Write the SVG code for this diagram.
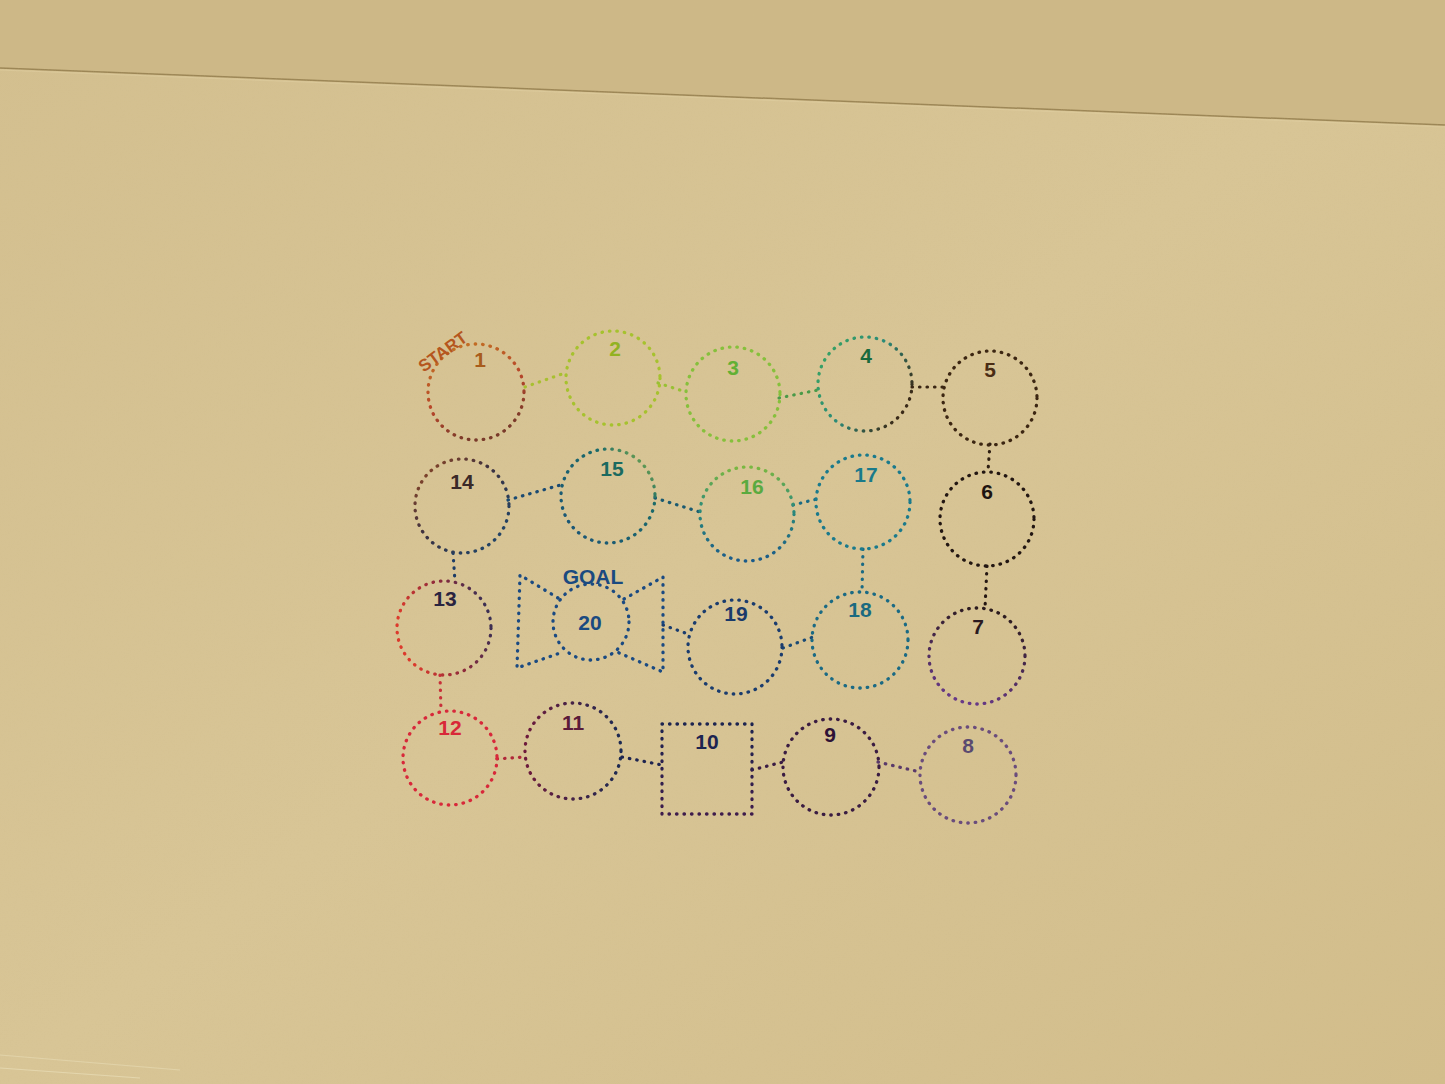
<svg xmlns="http://www.w3.org/2000/svg" width="1445" height="1084" viewBox="0 0 1445 1084">
<defs>
<style>
.d{fill:none;stroke-width:3.3;stroke-linecap:round;stroke-dasharray:0.5 7}
.c{fill:none;stroke-width:3.2;stroke-linecap:round;stroke-dasharray:0.5 7}
.n{font-family:"Liberation Sans",Arial,sans-serif;font-weight:bold;font-size:21px;text-anchor:middle;dominant-baseline:central}
</style>
<linearGradient id="bg" x1="0" y1="0" x2="1" y2="1">
<stop offset="0" stop-color="#d3bf8f"/>
<stop offset="0.5" stop-color="#d8c596"/>
<stop offset="1" stop-color="#d2bd8b"/>
</linearGradient>
<linearGradient id="g1" x1="0" y1="0" x2="0.4" y2="1"><stop offset="0" stop-color="#c57a22"/><stop offset="0.6" stop-color="#b8462a"/><stop offset="1" stop-color="#7a3a2a"/></linearGradient>
<linearGradient id="g4" x1="0" y1="0" x2="1" y2="0.6"><stop offset="0" stop-color="#3aa85e"/><stop offset="0.55" stop-color="#2a8a78"/><stop offset="1" stop-color="#3a2a18"/></linearGradient>
<linearGradient id="g7" x1="0.6" y1="0" x2="0.3" y2="1"><stop offset="0" stop-color="#2a1a1c"/><stop offset="1" stop-color="#6a3a8c"/></linearGradient>
<linearGradient id="g11" x1="0" y1="0" x2="1" y2="0"><stop offset="0" stop-color="#6e1a3c"/><stop offset="1" stop-color="#1c2a52"/></linearGradient>
<linearGradient id="g13" x1="0" y1="0.3" x2="1" y2="0"><stop offset="0" stop-color="#dc3a2c"/><stop offset="0.5" stop-color="#8a2a3c"/><stop offset="1" stop-color="#22305a"/></linearGradient>
<linearGradient id="g14" x1="0" y1="0" x2="1" y2="1"><stop offset="0" stop-color="#9a4a22"/><stop offset="0.45" stop-color="#3a3040"/><stop offset="1" stop-color="#1a4a72"/></linearGradient>
<linearGradient id="g15" x1="0" y1="1" x2="1" y2="0"><stop offset="0" stop-color="#1a5278"/><stop offset="0.7" stop-color="#1a6a6a"/><stop offset="1" stop-color="#9ac040"/></linearGradient>
<linearGradient id="g16" x1="0" y1="0" x2="0" y2="1"><stop offset="0" stop-color="#7ab840"/><stop offset="0.45" stop-color="#2a8a7a"/><stop offset="1" stop-color="#1a5a8a"/></linearGradient>
<linearGradient id="g10" x1="0" y1="0" x2="0" y2="1"><stop offset="0" stop-color="#1c2450"/><stop offset="1" stop-color="#3e1c4c"/></linearGradient>
<filter id="paper" x="0" y="0" width="100%" height="100%">
<feTurbulence type="fractalNoise" baseFrequency="0.7" numOctaves="3" seed="4" result="t"/>
<feColorMatrix in="t" type="matrix" values="0 0 0 0 0.62  0 0 0 0 0.50  0 0 0 0 0.25  0 0 0 -2 1.1"/>
</filter>
</defs>

<g id="background">
<rect width="1445" height="1084" fill="url(#bg)"/>
<polygon points="0,0 1445,0 1445,125 0,68" fill="#cdb887"/>
<line x1="0" y1="68" x2="1445" y2="125" stroke="#9c8656" stroke-width="1.5"/>
<line x1="0" y1="70" x2="1445" y2="127" stroke="#e0cfa2" stroke-width="1" opacity="0.6"/>
<rect width="1445" height="1084" filter="url(#paper)" opacity="0.15"/>
<line x1="0" y1="1055" x2="180" y2="1070" stroke="#e8dcb6" stroke-width="1.2" opacity="0.6"/>
<line x1="0" y1="1068" x2="140" y2="1078" stroke="#ece2be" stroke-width="1.2" opacity="0.6"/>
</g>

<g id="connectors">
<line class="c" x1="525" y1="387" x2="565" y2="373" stroke="#a8c030"/>
<line class="c" x1="658" y1="383" x2="686" y2="392" stroke="#98c034"/>
<line class="c" x1="779" y1="398" x2="818" y2="390" stroke="#4a9a48"/>
<line class="c" x1="912" y1="387" x2="943" y2="387" stroke="#3a2614"/>
<line class="c" x1="990" y1="444" x2="988" y2="471" stroke="#2e1e12"/>
<line class="c" x1="987" y1="566" x2="985" y2="608" stroke="#241612"/>
<line class="c" x1="878" y1="762" x2="920" y2="772" stroke="#5a3a6a"/>
<line class="c" x1="752" y1="770" x2="783" y2="762" stroke="#3a1c44"/>
<line class="c" x1="622" y1="757" x2="662" y2="765" stroke="#1e2450"/>
<line class="c" x1="497" y1="759" x2="526" y2="757" stroke="#b02838"/>
<line class="c" x1="440" y1="675" x2="441" y2="711" stroke="#c8303a"/>
<line class="c" x1="453" y1="553" x2="455" y2="582" stroke="#1c3c66"/>
<line class="c" x1="508" y1="500" x2="564" y2="484" stroke="#1a4a72"/>
<line class="c" x1="655" y1="498" x2="700" y2="512" stroke="#1a5a70"/>
<line class="c" x1="793" y1="505" x2="817" y2="499" stroke="#1a6a84"/>
<line class="c" x1="863" y1="549" x2="862" y2="592" stroke="#1a6a84"/>
<line class="c" x1="783" y1="648" x2="813" y2="637" stroke="#1a4a74"/>
<line class="c" x1="663" y1="625" x2="688" y2="634" stroke="#1a3c6e"/>
</g>

<g id="node1">
<circle class="d" cx="476" cy="392" r="48" stroke="url(#g1)"/>
<text class="n" x="480" y="359" fill="#a85c1c">1</text>
<text x="0" y="0" transform="translate(443,352) rotate(-36)" font-family="'Liberation Sans',Arial,sans-serif" font-weight="bold" font-size="17" text-anchor="middle" dominant-baseline="central" fill="#b5561e">START</text>
</g>
<g id="node2">
<circle class="d" cx="613" cy="378" r="47" stroke="#a6c22e"/>
<text class="n" x="615" y="348" fill="#92b222">2</text>
</g>
<g id="node3">
<circle class="d" cx="733" cy="394" r="47" stroke="#86c03c"/>
<text class="n" x="733" y="367" fill="#62b034">3</text>
</g>
<g id="node4">
<circle class="d" cx="865" cy="384" r="47" stroke="url(#g4)"/>
<text class="n" x="866" y="355" fill="#1a6a3c">4</text>
</g>
<g id="node5">
<circle class="d" cx="990" cy="398" r="47" stroke="#3c2612"/>
<text class="n" x="990" y="369" fill="#4a2c14">5</text>
</g>
<g id="node6">
<circle class="d" cx="987" cy="519" r="47" stroke="#221612"/>
<text class="n" x="987" y="491" fill="#1e1410">6</text>
</g>
<g id="node7">
<circle class="d" cx="977" cy="656" r="48" stroke="url(#g7)"/>
<text class="n" x="978" y="626" fill="#2a1a20">7</text>
</g>
<g id="node8">
<circle class="d" cx="968" cy="775" r="48" stroke="#6a4c7c"/>
<text class="n" x="968" y="745" fill="#5a4a70">8</text>
</g>
<g id="node9">
<circle class="d" cx="831" cy="767" r="48" stroke="#3a1c42"/>
<text class="n" x="830" y="734" fill="#2e1236">9</text>
</g>
<g id="node10">
<rect class="d" x="662" y="724" width="90" height="90" stroke="url(#g10)"/>
<text class="n" x="707" y="741" fill="#1c2450">10</text>
</g>
<g id="node11">
<circle class="d" cx="573" cy="751" r="48" stroke="url(#g11)"/>
<text class="n" x="573" y="722" fill="#5a1a3a">11</text>
</g>
<g id="node12">
<circle class="d" cx="450" cy="758" r="47" stroke="#d8283a"/>
<text class="n" x="450" y="727" fill="#d82838">12</text>
</g>
<g id="node13">
<circle class="d" cx="444" cy="628" r="47" stroke="url(#g13)"/>
<text class="n" x="445" y="598" fill="#2a2440">13</text>
</g>
<g id="node14">
<circle class="d" cx="462" cy="506" r="47" stroke="url(#g14)"/>
<text class="n" x="462" y="481" fill="#3a2a28">14</text>
</g>
<g id="node15">
<circle class="d" cx="608" cy="496" r="47" stroke="url(#g15)"/>
<text class="n" x="612" y="468" fill="#1a6a60">15</text>
</g>
<g id="node16">
<circle class="d" cx="747" cy="514" r="47" stroke="url(#g16)"/>
<text class="n" x="752" y="486" fill="#5aaa40">16</text>
</g>
<g id="node17">
<circle class="d" cx="863" cy="502" r="47" stroke="#1a7a8c"/>
<text class="n" x="866" y="474" fill="#1a7a8a">17</text>
</g>
<g id="node18">
<circle class="d" cx="860" cy="640" r="48" stroke="#1a6a84"/>
<text class="n" x="860" y="609" fill="#1a6a80">18</text>
</g>
<g id="node19">
<circle class="d" cx="735" cy="647" r="47" stroke="#1a3c6e"/>
<text class="n" x="736" y="613" fill="#1a3a6a">19</text>
</g>
<g id="node20">
<circle class="d" cx="591" cy="622" r="38" stroke="#1a4a82"/>
<polyline class="d" points="558,598 520,575 517,668 563,652" stroke="#1a4a82"/>
<polyline class="d" points="624,599 663,577 663,672 617,652" stroke="#1a4a82"/>
<text class="n" x="590" y="622" font-size="28" fill="#1a4a80">20</text>
<text class="n" x="593" y="576" font-size="19" fill="#1a4a80">GOAL</text>
</g>
</svg>
